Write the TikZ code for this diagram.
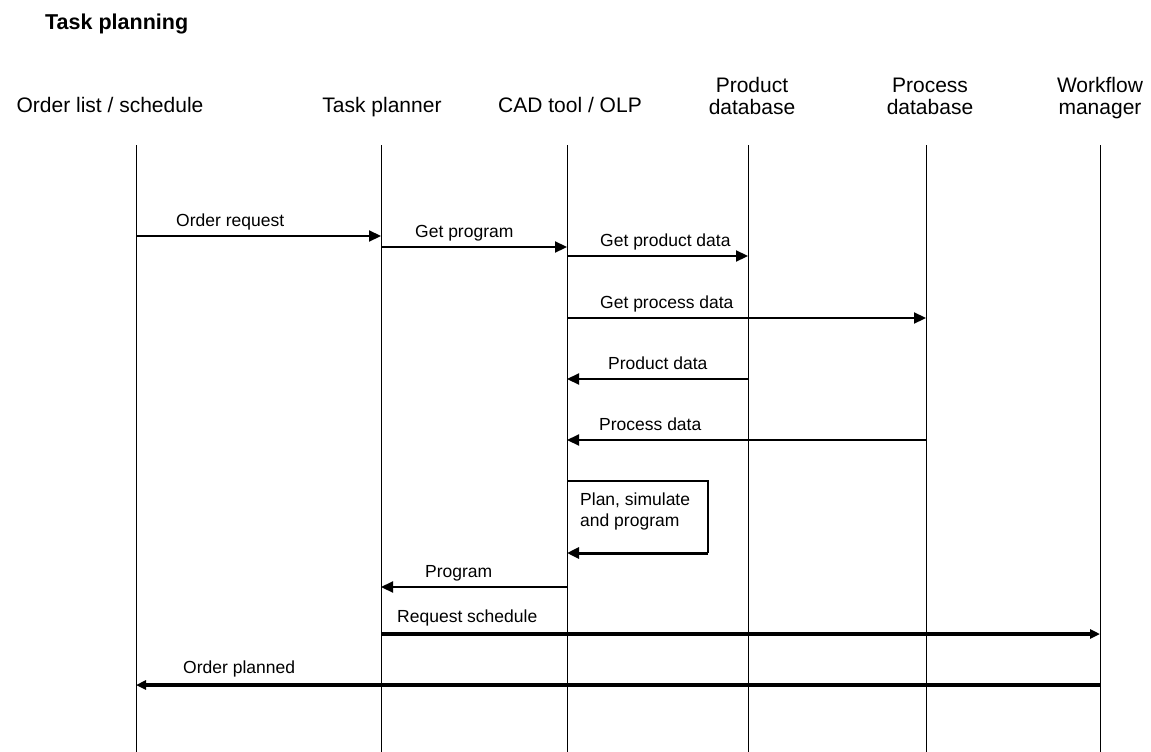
\documentclass[tikz,border=0pt]{standalone}
\usepackage{fontspec}
\setmainfont{Liberation Sans}
\usetikzlibrary{arrows.meta}

\begin{document}
\begin{tikzpicture}[x=1pt,y=-1pt,
  lifeline/.style={line width=1pt},
  msg/.style={line width=2.2pt,-{Triangle[length=12pt,width=11pt]}},
  bigmsg/.style={line width=3.8pt,-{Triangle[length=10pt,width=9pt]}},
  head/.style={font=\fontsize{21}{22}\selectfont,align=center,anchor=base,inner sep=0pt},
  lbl/.style={font=\fontsize{17.5}{21}\selectfont,anchor=base west,inner sep=0pt}]

\useasboundingbox (0,0) rectangle (1151,752);

% title
\node[font=\bfseries\fontsize{21.5}{24}\selectfont,anchor=base west,inner sep=0pt] (title) at (45,30) {Task planning};

% participant headings (base anchor sits on the last line)
\node[head] (h1) at (110,112) {Order list / schedule};
\node[head] (h2) at (382,112) {Task planner};
\node[head] (h3) at (570,112) {CAD tool / OLP};
\node[head] (h4) at (752,114) {Product\\database};
\node[head] (h5) at (930,114) {Process\\database};
\node[head] (h6) at (1100,114) {Workflow\\manager};

% lifelines
\foreach \n/\x in {1/136,2/381,3/567,4/748,5/926,6/1100}{
  \coordinate (L\n) at (\x,145);
  \coordinate (B\n) at (\x,752);
  \draw[lifeline] (L\n) -- (B\n);
}

% messages
\draw[msg] (L1 |- 0,236) -- (L2 |- 0,236);
\node[lbl] (m1) at (176,226) {Order request};

\draw[msg] (L2 |- 0,247) -- (L3 |- 0,247);
\node[lbl] (m2) at (415,237) {Get program};

\draw[msg] (L3 |- 0,256) -- (L4 |- 0,256);
\node[lbl] (m3) at (600,246) {Get product data};

\draw[msg] (L3 |- 0,318) -- (L5 |- 0,318);
\node[lbl] (m4) at (600,308) {Get process data};

\draw[msg] (L4 |- 0,379) -- (L3 |- 0,379);
\node[lbl] (m5) at (608,369) {Product data};

\draw[msg] (L5 |- 0,440) -- (L3 |- 0,440);
\node[lbl] (m6) at (599,430) {Process data};

% self message
\coordinate (s1) at (708,481);
\coordinate (s2) at (708,553);
\draw[line width=1.3pt] (L3 |- s1) -- (s1) -- (s2);
\draw[msg,line width=3pt] (s2) -- (L3 |- s2);
\node[lbl,align=left,font=\fontsize{17.5}{21}\selectfont] (m7) at (580,526) {Plan, simulate\\and program};

\draw[msg] (L3 |- 0,587) -- (L2 |- 0,587);
\node[lbl] (m8) at (425,577) {Program};

\draw[bigmsg] (L2 |- 0,634) -- (L6 |- 0,634);
\node[lbl] (m9) at (397,622) {Request schedule};

\draw[bigmsg] (L6 |- 0,685) -- (L1 |- 0,685);
\node[lbl] (m10) at (183,673) {Order planned};

\end{tikzpicture}
\end{document}
